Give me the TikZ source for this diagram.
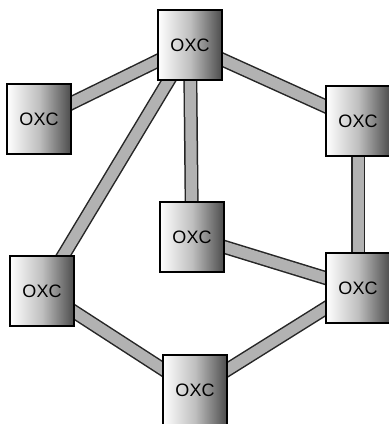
\documentclass[tikz,border=0pt]{standalone}
\usepackage{fontspec}
\setmainfont{Liberation Sans}
\pgfdeclarelayer{background}
\pgfsetlayers{background,main}
\begin{document}
\begin{tikzpicture}[x=1pt,y=-1pt,
  oxc/.style={draw=black, line width=1.2pt, minimum width=64pt, minimum height=70pt,
    inner sep=0pt, left color=white, right color=black!70, middle color=black!25,
    font=\fontsize{18}{18}\selectfont},
  linkout/.style={line width=14pt, black!85},
  linkin/.style={line width=11pt, black!30}]
\useasboundingbox (0,0) rectangle (389,424);
\node[oxc] (t) at (190,45) {OXC};
\node[oxc] (lu) at (39,119) {OXC};
\node[oxc] (ru) at (358,121) {OXC};
\node[oxc] (m) at (192,237) {OXC};
\node[oxc] (ll) at (42,291) {OXC};
\node[oxc] (rl) at (358,288) {OXC};
\node[oxc] (b) at (195,390) {OXC};
\begin{pgfonlayer}{background}
\foreach \a/\b in {t/lu,t/ru,t/m,t/ll,ru/rl,m/rl,ll/b,b/rl}{
  \draw[linkout] (\a.center) -- (\b.center);
  \draw[linkin] (\a.center) -- (\b.center);
}
\end{pgfonlayer}
\end{tikzpicture}
\end{document}
